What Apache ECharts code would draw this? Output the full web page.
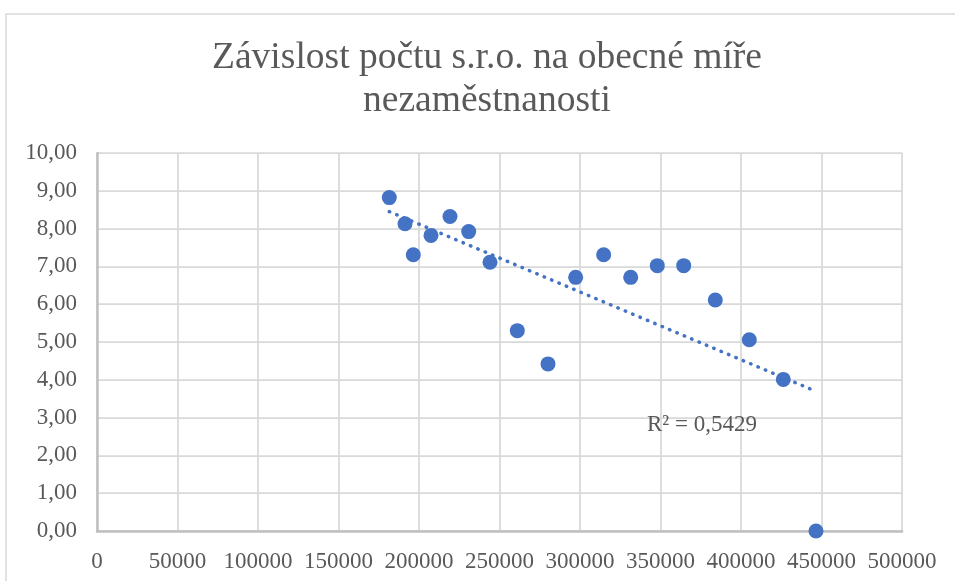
<!DOCTYPE html>
<html>
<head>
<meta charset="utf-8">
<script src="https://cdn.jsdelivr.net/npm/echarts@6/dist/echarts.min.js"></script>
<style>
html,body{margin:0;padding:0;background:#fff;}
#c{width:955px;height:581px;}
</style>
</head>
<body>
<div id="c"></div>
<script>
// ---- data ----
const titleText = 'Závislost počtu s.r.o. na obecné míře\nnezaměstnanosti';
const xValues = [181550, 191300, 196460, 207450, 219250, 230870, 244100, 261060, 280120,
                 297300, 314700, 331490, 348010, 364410, 384040, 405160, 426270, 446580];
const yValues = [8.82, 8.13, 7.31, 7.82, 8.32, 7.92, 7.11, 5.30, 4.42,
                 6.71, 7.31, 6.71, 7.02, 7.02, 6.11, 5.06, 4.01, 0.00];
const xTicks = [0, 50000, 100000, 150000, 200000, 250000, 300000, 350000, 400000, 450000, 500000];
const yTicks = [0, 1, 2, 3, 4, 5, 6, 7, 8, 9, 10];
const r2Label = 'R² = 0,5429';

// ---- linear trend (least squares) ----
const n = xValues.length;
const mx = xValues.reduce((a, b) => a + b, 0) / n;
const my = yValues.reduce((a, b) => a + b, 0) / n;
let sxy = 0, sxx = 0;
for (let i = 0; i < n; i++) { sxy += (xValues[i] - mx) * (yValues[i] - my); sxx += (xValues[i] - mx) ** 2; }
const slope = sxy / sxx, intercept = my - slope * mx;
const xMin = Math.min(...xValues), xMax = Math.max(...xValues);
const trend = [[xMin, intercept + slope * xMin], [xMax, intercept + slope * xMax]];

const points = xValues.map((x, i) => [x, yValues[i]]);
const FONT = '"Liberation Serif", "Times New Roman", serif';
const GREY = '#595959';

const chart = echarts.init(document.getElementById('c'), null, {renderer: 'canvas'});
chart.setOption({
  animation: false,
  backgroundColor: '#fff',
  graphic: [
    {type: 'rect', shape: {x: 6, y: 14, width: 980, height: 620},
     style: {fill: 'none', stroke: '#d9d9d9', lineWidth: 1.5}, silent: true, z: -10},
    {type: 'text', x: 487, y: 37, z: 10,
     style: {text: titleText, font: '37.5px ' + FONT, fill: GREY, align: 'center', verticalAlign: 'top', lineHeight: 43}},
    {type: 'text', x: 702, y: 425, z: 10,
     style: {text: r2Label, font: '23px ' + FONT, fill: GREY, align: 'center', verticalAlign: 'middle'}}
  ],
  grid: {left: 97, top: 153, right: 53, bottom: 50, containLabel: false},
  xAxis: {
    type: 'value', min: xTicks[0], max: xTicks[xTicks.length - 1], interval: xTicks[1] - xTicks[0],
    axisLine: {show: true, onZero: false, lineStyle: {color: '#bfbfbf', width: 2.5}},
    axisTick: {show: false},
    splitLine: {show: true, lineStyle: {color: '#d9d9d9', width: 1.75}},
    axisLabel: {color: GREY, fontFamily: FONT, fontSize: 23, margin: 19, formatter: v => String(v)}
  },
  yAxis: {
    type: 'value', min: yTicks[0], max: yTicks[yTicks.length - 1], interval: yTicks[1] - yTicks[0],
    axisLine: {show: true, onZero: false, lineStyle: {color: '#bfbfbf', width: 2.5}},
    axisTick: {show: false},
    splitLine: {show: true, lineStyle: {color: '#d9d9d9', width: 1.75}},
    axisLabel: {color: GREY, fontFamily: FONT, fontSize: 23, margin: 20,
                formatter: v => v.toFixed(2).replace('.', ',')}
  },
  series: [
    {type: 'line', data: trend, symbol: 'none', clip: false, z: 3,
     lineStyle: {color: '#4472C4', width: 3.5, type: [0.5, 7.5], cap: 'round'}},
    {type: 'scatter', data: points, symbol: 'circle', symbolSize: 15, clip: false, z: 4,
     itemStyle: {color: '#4472C4', borderColor: '#4472C4', borderWidth: 0, opacity: 1}}
  ]
});
</script>
</body>
</html>
